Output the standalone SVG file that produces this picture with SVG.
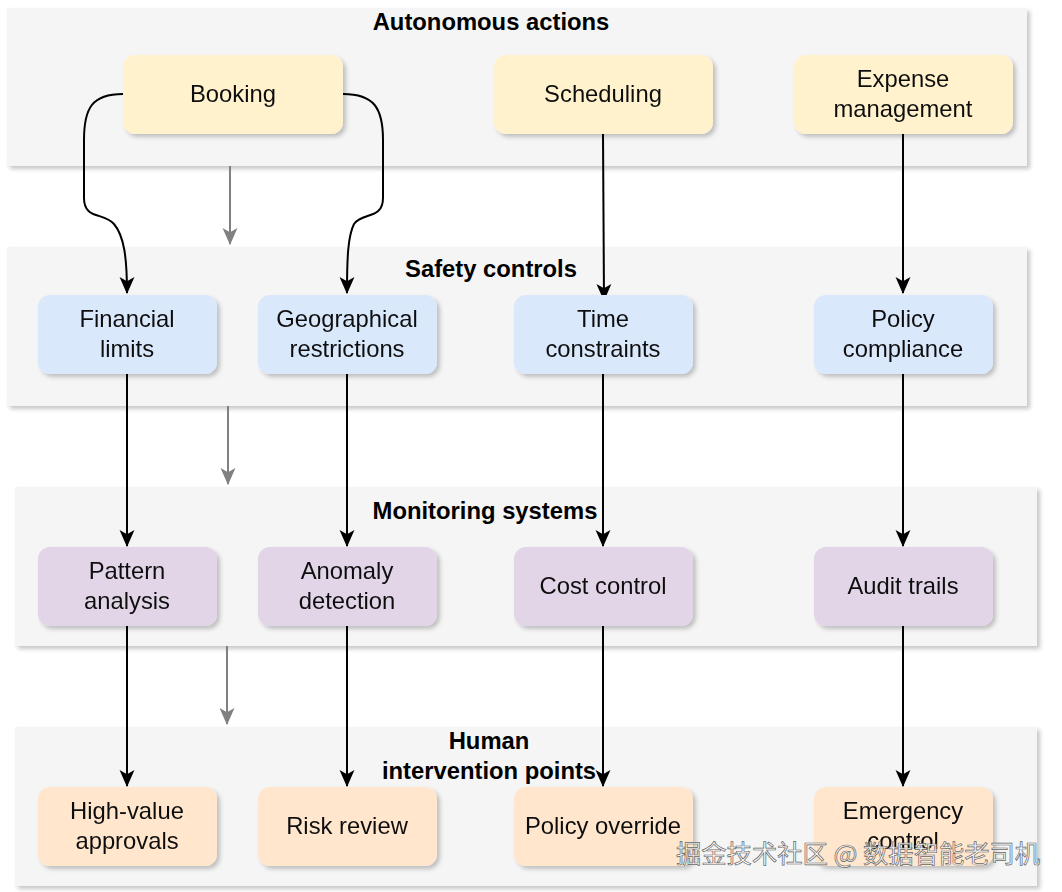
<svg xmlns="http://www.w3.org/2000/svg" width="1062" height="892" viewBox="0 0 1062 892">
<style>
.cont{fill:#f5f5f5;filter:url(#sh)}
.n{filter:url(#sh)}
.y{fill:#fff2cc}.b{fill:#dae8fc}.p{fill:#e1d5e7}.o{fill:#ffe6cc}
.t{font-family:"Liberation Sans",Arial,Helvetica,sans-serif;font-size:23.8px;fill:#111;text-anchor:middle}
.h{font-family:"Liberation Sans",Arial,Helvetica,sans-serif;font-size:23.8px;font-weight:bold;fill:#000;text-anchor:middle}
.e{fill:none;stroke:#000;stroke-width:2;marker-end:url(#a)}
.g{fill:none;stroke:#808080;stroke-width:2;marker-end:url(#ag)}
.wm{font-family:"Noto Sans CJK SC","Liberation Sans",sans-serif;font-size:25.3px;fill:#ffffff;fill-opacity:0.85;stroke:#666;stroke-width:0.7}
</style>
<defs>
<filter id="sh" x="-10%" y="-10%" width="130%" height="130%">
<feDropShadow dx="3" dy="3" stdDeviation="2" flood-color="#000" flood-opacity="0.22"/>
</filter>
<marker id="a" markerUnits="userSpaceOnUse" markerWidth="17" markerHeight="17" viewBox="0 0 16 16" refX="15" refY="8" orient="auto">
<path d="M0,1 L16,8 L0,15 L4,8 z" fill="#000"/>
</marker>
<marker id="ag" markerUnits="userSpaceOnUse" markerWidth="17" markerHeight="17" viewBox="0 0 16 16" refX="15" refY="8" orient="auto">
<path d="M0,1 L16,8 L0,15 L4,8 z" fill="#808080"/>
</marker>
</defs>
<rect width="1062" height="892" fill="#ffffff"/>

<g id="layer-autonomous">
<rect class="cont" x="7" y="8" width="1020" height="158"/>
<text class="h" x="491" y="30">Autonomous actions</text>
</g>
<g id="layer-safety">
<rect class="cont" x="7" y="247" width="1020" height="159"/>
<text class="h" x="491" y="277">Safety controls</text>
</g>
<g id="layer-monitoring">
<rect class="cont" x="15" y="487" width="1022" height="159"/>
<text class="h" x="485" y="519">Monitoring systems</text>
</g>
<g id="layer-human">
<rect class="cont" x="15" y="727" width="1022" height="159"/>
<text class="h" x="489" y="749">Human</text>
<text class="h" x="489" y="779">intervention points</text>
</g>

<g id="connectors">
<path class="g" d="M230,166 L230,244"/>
<path class="g" d="M228,406 L228,484"/>
<path class="g" d="M227,646 L227,724"/>
<path class="e" d="M123,94 C92,94 84,108 84,140 L84,198 C84,220 104,212 114,224 C124,236 127,257 127,293"/>
<path class="e" d="M343,94 C374,94 383,108 383,140 L383,198 C383,220 362,212 354,224 C348,236 347,257 347,293"/>
<path class="e" d="M603,134 L604,300"/>
<path class="e" d="M903,134 L903,293"/>
<path class="e" d="M127,374 L127,546"/>
<path class="e" d="M347,374 L347,546"/>
<path class="e" d="M603,374 L603,546"/>
<path class="e" d="M903,374 L903,546"/>
<path class="e" d="M127,626 L127,786"/>
<path class="e" d="M347,626 L347,786"/>
<path class="e" d="M603,626 L603,786"/>
<path class="e" d="M903,626 L903,786"/>
</g>

<g id="booking" class="n"><rect class="y" x="123" y="55" width="220" height="79" rx="12"/><text class="t" x="233" y="102">Booking</text></g>
<g id="scheduling" class="n"><rect class="y" x="494" y="55" width="219" height="79" rx="12"/><text class="t" x="603" y="102">Scheduling</text></g>
<g id="expense" class="n"><rect class="y" x="794" y="55" width="219" height="79" rx="12"/><text class="t" x="903" y="87">Expense</text><text class="t" x="903" y="117">management</text></g>

<g id="financial" class="n"><rect class="b" x="38" y="295" width="179" height="79" rx="12"/><text class="t" x="127" y="327">Financial</text><text class="t" x="127" y="357">limits</text></g>
<g id="geographical" class="n"><rect class="b" x="258" y="295" width="179" height="79" rx="12"/><text class="t" x="347" y="327">Geographical</text><text class="t" x="347" y="357">restrictions</text></g>
<g id="time" class="n"><rect class="b" x="514" y="295" width="179" height="79" rx="12"/><text class="t" x="603" y="327">Time</text><text class="t" x="603" y="357">constraints</text></g>
<g id="policy" class="n"><rect class="b" x="814" y="295" width="179" height="79" rx="12"/><text class="t" x="903" y="327">Policy</text><text class="t" x="903" y="357">compliance</text></g>

<g id="pattern" class="n"><rect class="p" x="38" y="547" width="179" height="79" rx="12"/><text class="t" x="127" y="579">Pattern</text><text class="t" x="127" y="609">analysis</text></g>
<g id="anomaly" class="n"><rect class="p" x="258" y="547" width="179" height="79" rx="12"/><text class="t" x="347" y="579">Anomaly</text><text class="t" x="347" y="609">detection</text></g>
<g id="cost" class="n"><rect class="p" x="514" y="547" width="179" height="79" rx="12"/><text class="t" x="603" y="594">Cost control</text></g>
<g id="audit" class="n"><rect class="p" x="814" y="547" width="179" height="79" rx="12"/><text class="t" x="903" y="594">Audit trails</text></g>

<g id="highvalue" class="n"><rect class="o" x="38" y="787" width="179" height="79" rx="12"/><text class="t" x="127" y="819">High-value</text><text class="t" x="127" y="849">approvals</text></g>
<g id="riskreview" class="n"><rect class="o" x="258" y="787" width="179" height="79" rx="12"/><text class="t" x="347" y="834">Risk review</text></g>
<g id="override" class="n"><rect class="o" x="514" y="787" width="179" height="79" rx="12"/><text class="t" x="603" y="834">Policy override</text></g>
<g id="emergency" class="n"><rect class="o" x="814" y="787" width="179" height="79" rx="12"/><text class="t" x="903" y="819">Emergency</text><text class="t" x="903" y="849">control</text></g>

<text class="wm" x="676" y="863">掘金技术社区 @ 数据智能老司机</text>
</svg>
